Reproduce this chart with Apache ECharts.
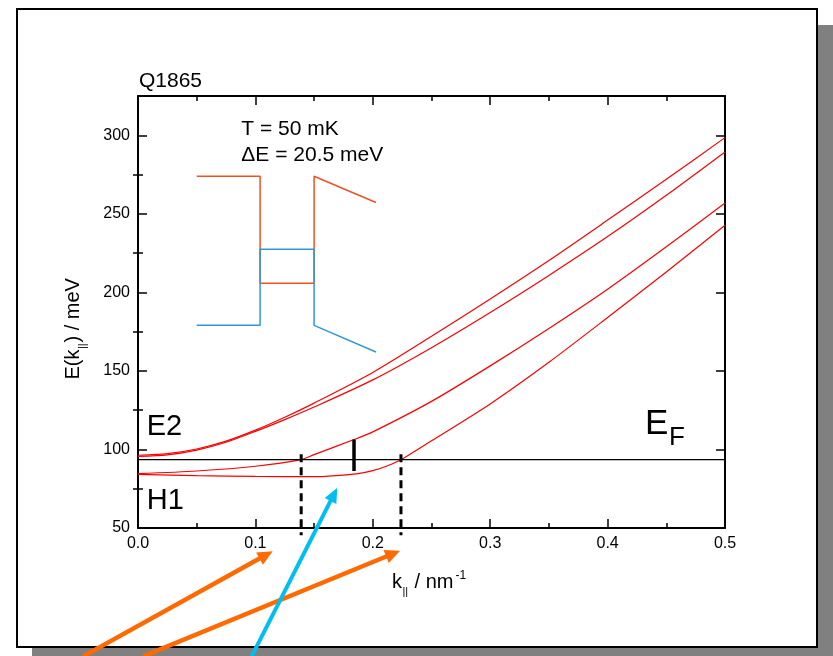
<!DOCTYPE html>
<html><head><meta charset="utf-8">
<script src="https://cdn.jsdelivr.net/npm/echarts@6/dist/echarts.min.js"></script>
<style>html,body{margin:0;padding:0;background:#fff}#c{width:833px;height:656px}</style>
</head><body><div id="c"></div>
<script>
// ---------- data ----------
const xTickLabels = [0, 0.1, 0.2, 0.3, 0.4, 0.5];
const yTickLabels = [50, 100, 150, 200, 250, 300];
const yMinorTicks = [75, 125, 175, 225, 275];
const kA = [0, 0.025, 0.05, 0.075, 0.1, 0.125, 0.15, 0.2, 0.25, 0.3, 0.35, 0.4, 0.45, 0.5];
const eA = [96.3, 97.3, 100.3, 105.3, 112.3, 120.5, 129.5, 149.0, 172.0, 195.8, 220.3, 246.0, 272.0, 298.5];
const kB = [0, 0.025, 0.05, 0.075, 0.1, 0.125, 0.15, 0.2, 0.25, 0.3, 0.35, 0.4, 0.45, 0.5];
const eB = [95.6, 96.6, 99.6, 104.6, 111.5, 119.0, 127.0, 144.3, 164.8, 187.2, 210.8, 235.5, 261.8, 289.4];
const kC = [0, 0.05, 0.1, 0.139, 0.15, 0.184, 0.2, 0.25, 0.3, 0.35, 0.4, 0.45, 0.5];
const eC = [84.6, 86.3, 89.3, 93.5, 96.7, 106.3, 111.2, 130.6, 153.2, 177.0, 202.0, 229.0, 256.9];
const kD = [0, 0.05, 0.1, 0.15, 0.186, 0.2, 0.212, 0.224, 0.25, 0.3, 0.35, 0.4, 0.45, 0.5];
const eD = [84.1, 83.4, 82.8, 82.7, 84.5, 86.5, 89.5, 93.5, 105.5, 129.0, 155.5, 184.0, 213.0, 242.7];
const kFermi = [0, 0.5];
const eFermi = [93.5, 93.5];
const kDash1 = [0.139, 0.139], eDash1 = [96.9, 45.4];
const kDash2 = [0.224, 0.224], eDash2 = [96.9, 45.4];
const kMark = [0.184, 0.184], eMark = [86.3, 106.3];
const kInsetRed = [0.05, 0.104, 0.104, 0.150, 0.150, 0.2027];
const eInsetRed = [273.9, 273.9, 205.8, 205.8, 273.9, 257.2];
const kInsetBlue = [0.05, 0.104, 0.104, 0.150, 0.150, 0.2027];
const eInsetBlue = [179.0, 179.0, 227.4, 227.4, 179.0, 162.0];
// arrows: [kStart, eStart, kTip, eTip]
const arrowOrange1 = [-0.0468, -31.7, 0.1147, 35.2];
const arrowOrange2 = [0.0043, -31.7, 0.2232, 35.5];
const arrowBlue = [0.0968, -31.7, 0.1698, 75.7];

// ---------- chart ----------
const zip = (a, b) => a.map((v, i) => [v, b[i]]);
const FONT = 'Liberation Sans, Arial, sans-serif';
const chart = echarts.init(document.getElementById('c'), null, {renderer: 'canvas'});
const tickStyle = {color: '#000', width: 1.5};
const axLine = {show: true, onZero: false, lineStyle: {color: '#000', width: 2}};
function xAx(pos, labels) {
  return {type: 'value', position: pos, min: 0, max: 0.5, interval: 0.1,
    splitLine: {show: false}, axisLine: axLine,
    axisTick: {inside: true, length: 9, lineStyle: tickStyle},
    minorTick: {show: true, splitNumber: 2, length: 5, lineStyle: tickStyle},
    axisLabel: {show: labels, formatter: v => v.toFixed(1), fontSize: 16, color: '#000', margin: 8, fontFamily: FONT}};
}
function yAx(pos, major, labels) {
  return {type: 'value', position: pos, min: 50, max: 325,
    splitLine: {show: false},
    axisLine: major ? axLine : {show: false},
    axisTick: {show: true, inside: true, length: major ? 9 : 5, lineStyle: tickStyle,
      customValues: major ? yTickLabels : yMinorTicks},
    axisLabel: {show: labels, customValues: yTickLabels, fontSize: 16, color: '#000', margin: 8, fontFamily: FONT}};
}
function lineS(k, e, color, width, extra) {
  return Object.assign({type: 'line', data: zip(k, e), showSymbol: false, symbol: 'none',
    lineStyle: {color: color, width: width}, xAxisIndex: 0, yAxisIndex: 0, silent: true, animation: false}, extra || {});
}
function txt(id, x, y, text, size, extra) {
  return Object.assign({type: 'text', id: id, x: x, y: y, z: 50,
    style: {text: text, fontSize: size, fontFamily: FONT, fill: '#000', verticalAlign: 'middle', align: 'left'}}, extra || {});
}
const option = {
  backgroundColor: '#fff',
  animation: false,
  grid: {left: 138, top: 96, width: 587, height: 432, containLabel: false},
  xAxis: [xAx('bottom', true), xAx('top', false)],
  yAxis: [yAx('left', true, true), yAx('left', false, false), yAx('right', true, false), yAx('right', false, false)],
  series: [
    lineS(kA, eA, '#ff0000', 1.2, {smooth: 0.25}),
    lineS(kB, eB, '#ff0000', 1.2, {smooth: 0.25}),
    lineS(kC, eC, '#ff0000', 1.2, {smooth: 0.25}),
    lineS(kD, eD, '#ff0000', 1.2, {smooth: 0.25}),
    lineS(kFermi, eFermi, '#000', 1.2),
    lineS(kDash1, eDash1, '#000', 3, {clip: false, lineStyle: {color: '#000', width: 3, type: [8, 5]}}),
    lineS(kDash2, eDash2, '#000', 3, {clip: false, lineStyle: {color: '#000', width: 3, type: [8, 5]}}),
    lineS(kMark, eMark, '#000', 3.5),
    lineS(kInsetRed, eInsetRed, '#ee5224', 1.5),
    lineS(kInsetBlue, eInsetBlue, '#3197da', 1.5)
  ],
  graphic: [
    {type: 'rect', id: 'shadow', z: -100, shape: {x: 32, y: 25, width: 801, height: 640}, style: {fill: '#808080'}},
    {type: 'rect', id: 'frame', z: -99, shape: {x: 17, y: 9, width: 800, height: 638}, style: {fill: '#fff', stroke: '#000', lineWidth: 2}},
    txt('q', 139, 81, 'Q1865', 21),
    txt('t1', 241.3, 129.3, 'T = 50 mK', 21),
    txt('t2', 241.3, 155.3, '\u0394E = 20.5 meV', 21),
    txt('e2', 146.7, 426.8, 'E2', 29),
    txt('h1', 146.7, 500.8, 'H1', 29),
    txt('ef1', 645, 424.4, 'E', 35),
    txt('ef2', 669, 437.6, 'F', 26),
    {type: 'group', id: 'xname', x: 392, y: 589, children: [
      txt('xn1', 0, -7, 'k', 20),
      txt('xn2', 10.5, 2.5, '||', 11),
      txt('xn3', 17, -7, ' / nm', 20),
      txt('xn4', 63.5, -13, '-1', 12)
    ]},
    {type: 'group', id: 'yname', x: 80, y: 379.5, rotation: Math.PI / 2, children: [
      txt('yn1', 0, -7, 'E(k', 20),
      txt('yn2', 30.5, 2.5, '||', 11),
      txt('yn3', 37, -7, ') / meV', 20)
    ]}
  ]
};
chart.setOption(option);

function arrowEls(id, a, color, lw, headLen, headHalf) {
  const p0 = chart.convertToPixel({xAxisIndex: 0, yAxisIndex: 0}, [a[0], a[1]]);
  const p1 = chart.convertToPixel({xAxisIndex: 0, yAxisIndex: 0}, [a[2], a[3]]);
  const dx = p1[0] - p0[0], dy = p1[1] - p0[1];
  const L = Math.sqrt(dx * dx + dy * dy);
  const ux = dx / L, uy = dy / L, nx = -uy, ny = ux;
  const bx = p1[0] - ux * headLen, by = p1[1] - uy * headLen;
  return [
    {type: 'polyline', id: id + 's', z: 60, shape: {points: [p0, [bx + ux * 2, by + uy * 2]]}, style: {stroke: color, lineWidth: lw, fill: null}},
    {type: 'polygon', id: id + 'h', z: 60, shape: {points: [p1, [bx + nx * headHalf, by + ny * headHalf], [bx - nx * headHalf, by - ny * headHalf]]}, style: {fill: color}}
  ];
}
chart.setOption({graphic: [].concat(
  arrowEls('ao1', arrowOrange1, '#ff6a00', 4.5, 15, 7),
  arrowEls('ao2', arrowOrange2, '#ff6a00', 4.5, 15, 7),
  arrowEls('ab', arrowBlue, '#00bff0', 4, 15, 6.5)
)});
</script>
</body></html>
